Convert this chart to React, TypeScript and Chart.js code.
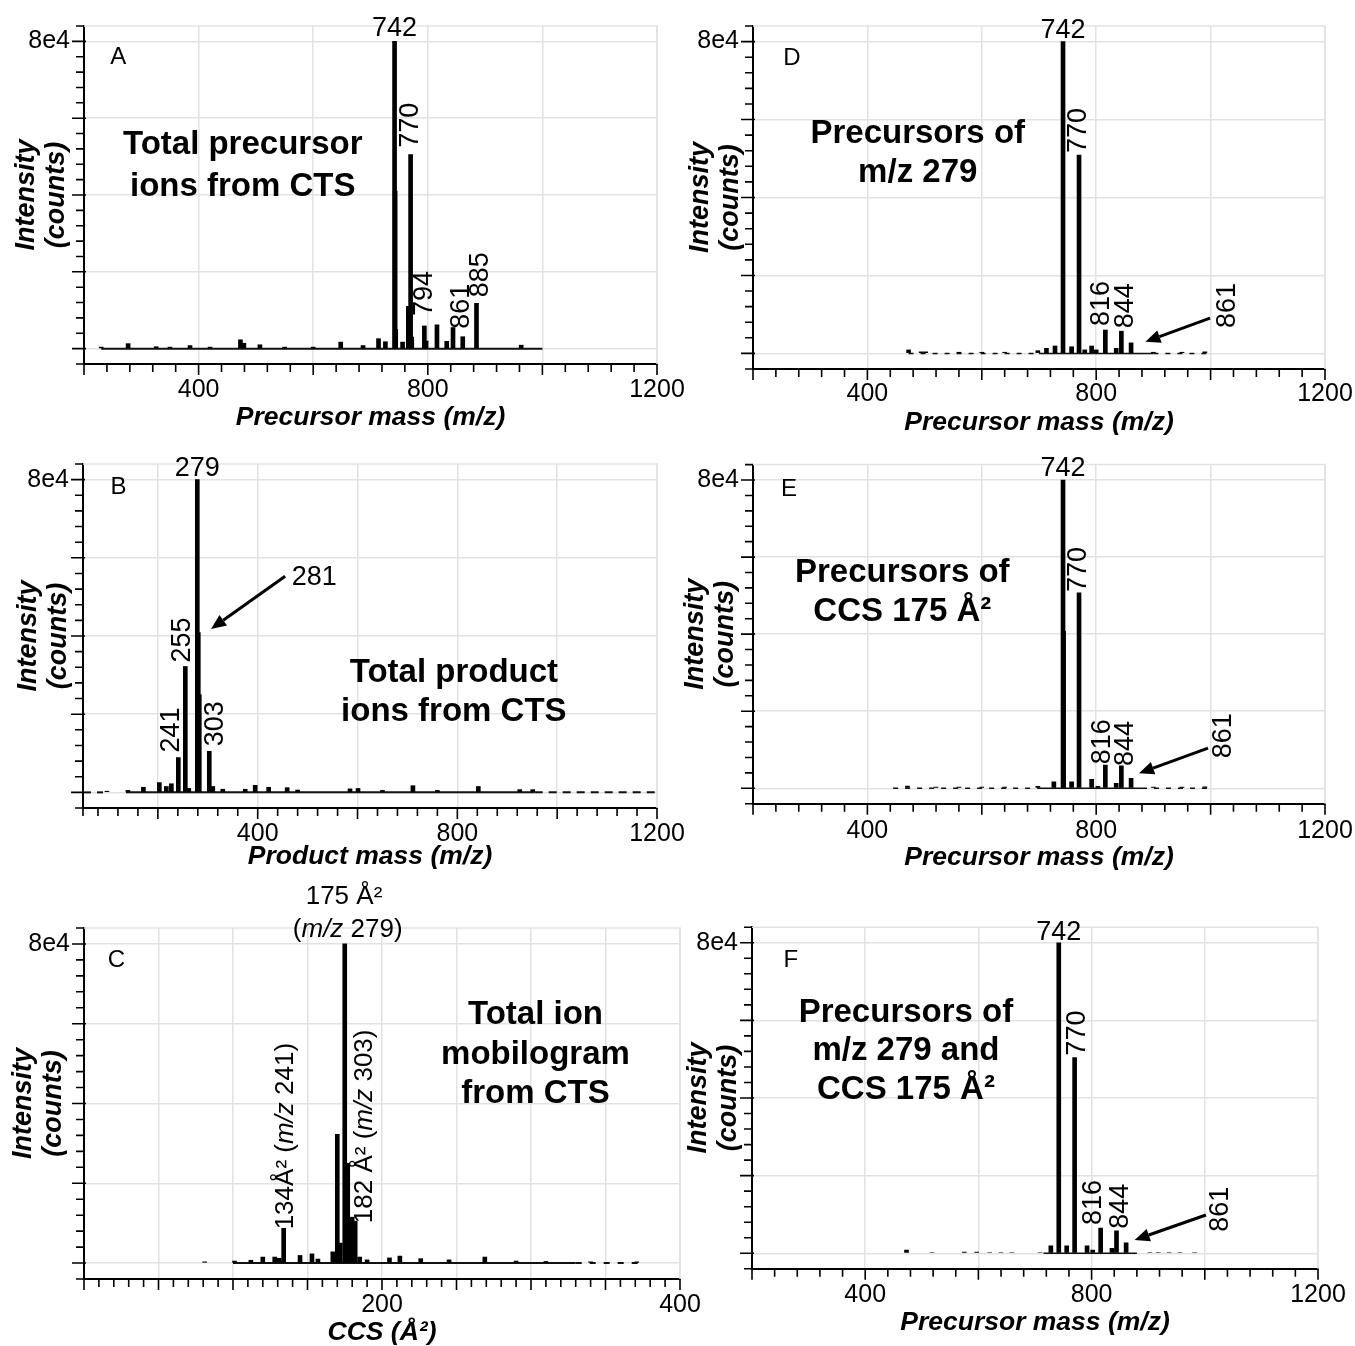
import React, { useEffect, useRef } from "react";
import { Chart, registerables } from "chart.js";

Chart.register(...registerables);

const FONT = '"Liberation Sans", Arial, Helvetica, sans-serif';
const GRID = "#e2e2e2";
Chart.defaults.font.family = FONT;
Chart.defaults.color = "#000";

// ---------- tick labels & titles ----------
const intensityTickValues = [80000];
const intensityTickLabels = ["8e4"];
const massTickLabels = [400, 800, 1200];
const ccsTickLabels = [200, 400];
const intensityTitle = ["Intensity", "(counts)"];

// ---------- Panel A: total precursor ions ----------
const aMz = [230, 277, 326, 350, 385, 420, 473, 479, 507, 550, 600, 648, 687, 714, 726, 742, 743, 744, 756, 766, 770, 772, 794, 797, 816, 833, 844, 861, 885, 963];
const aIntensity = [400, 1300, 500, 400, 800, 400, 2300, 1400, 1000, 400, 400, 1700, 800, 2600, 1800, 80000, 41000, 5000, 1700, 11000, 50500, 3000, 5900, 2000, 6200, 1900, 5500, 3100, 11800, 900];

// ---------- Panel B: total product ions ----------
const bMz = [98, 140, 171, 203, 217, 227, 241, 255, 262, 279, 281, 283, 303, 310, 330, 375, 395, 422, 459, 480, 585, 601, 650, 711, 760, 842, 925, 951];
const bIntensity = [300, 500, 1300, 2500, 1500, 2200, 8900, 32200, 1000, 80000, 40900, 25000, 10500, 1500, 800, 800, 1800, 1300, 1200, 600, 900, 1000, 500, 1700, 500, 1500, 700, 700];

// ---------- Panel C: total ion mobilogram ----------
const cCcs = [81, 101, 112, 120, 128, 131, 134, 145, 153, 157, 167, 170, 172, 175, 177, 180, 182, 185, 190, 205, 212, 226, 245, 269, 290, 310, 340, 371];
const cIntensity = [300, 500, 700, 1500, 1500, 1200, 8700, 1900, 2300, 1000, 2800, 32300, 5000, 80000, 25000, 11500, 10500, 1500, 800, 1300, 1750, 1100, 800, 1500, 500, 400, 300, 300];

// ---------- Panel D: precursors of m/z 279 ----------
const dMz = [472, 494, 502, 560, 600, 640, 698, 713, 728, 742, 757, 770, 780, 792, 800, 816, 835, 844, 861, 900, 950, 990];
const dIntensity = [900, 400, 400, 300, 300, 300, 700, 1300, 1900, 80000, 1700, 50900, 900, 1900, 900, 6000, 1300, 5700, 2700, 300, 300, 400];

// ---------- Panel E: precursors of CCS 175 ----------
const eMz = [470, 520, 560, 600, 640, 698, 726, 742, 743, 757, 770, 792, 803, 816, 835, 844, 861, 900, 950, 990];
const eIntensity = [600, 300, 300, 300, 300, 500, 1700, 80000, 40700, 1700, 50700, 2300, 500, 6000, 1300, 5800, 2600, 300, 300, 400];

// ---------- Panel F: precursors of m/z 279 and CCS 175 ----------
const fMz = [473, 518, 575, 597, 620, 640, 659, 709, 728, 742, 756, 770, 792, 802, 816, 836, 844, 861, 903, 918, 937, 956, 982];
const fIntensity = [800, 200, 300, 300, 200, 200, 200, 200, 1900, 80000, 1900, 50400, 1900, 800, 6500, 1300, 5800, 2700, 200, 200, 200, 200, 200];

type Run = { t: string; i?: boolean };
type Label = {
  runs: Run[];
  at?: number;
  x?: number;
  y?: number;
  rot?: boolean;
  dx?: number;
  gap?: number;
  size?: number;
  align?: "center" | "left";
  baseline?: CanvasTextBaseline;
};
type Baseline = { from: number; to: number; dash?: number[]; width: number };
type PanelCfg = {
  id: string;
  box: { left: number; top: number; width: number; height: number };
  area: { L: number; T: number; R: number; B: number };
  xMin: number;
  xMax: number;
  xMinor: number;
  xMajor: number;
  xLabels: number[];
  xTitle: string;
  tickPad: number;
  xTitleOffset: number;
  yTitleX: number;
  mz: number[];
  inten: number[];
  baselines: Baseline[];
  letter: { text: string; x: number; y: number };
  headline: { lines: string[]; x: number; y: number; gap: number };
  labels: Label[];
  arrows: { x1: number; y1: number; x2: number; y2: number }[];
};

const Y_MIN = -4000;
const Y_MAX = 84000;
const Y_MINOR = 4000;
const Y_MAJOR = 20000;
const LABEL_SIZE = 27;

const R = (t: string): Run[] => [{ t }];

const panels: PanelCfg[] = [
  {
    id: "A",
    box: { left: 0, top: -40, width: 740, height: 480 },
    area: { L: 84, T: 26, R: 657, B: 364 },
    xMin: 200, xMax: 1200, xMinor: 40, xMajor: 200, xLabels: massTickLabels,
    xTitle: "Precursor mass (m/z)", tickPad: 11, xTitleOffset: 54, yTitleX: 27,
    mz: aMz, inten: aIntensity,
    baselines: [{ from: 230, to: 1000, width: 2 }],
    letter: { text: "A", x: 246, y: 75800 },
    headline: { lines: ["Total precursor", "ions from CTS"], x: 477, y: 53000, gap: 42 },
    labels: [
      { runs: R("742"), at: 742, gap: 5 },
      { runs: R("770"), at: 770, rot: true, dx: 0, gap: 7 },
      { runs: R("794"), at: 794, rot: true, dx: 0, gap: 10 },
      { runs: R("861"), at: 861, rot: true, dx: -1, gap: 8 },
      { runs: R("885"), at: 885, rot: true, dx: 4, gap: 6 },
    ],
    arrows: [],
  },
  {
    id: "B",
    box: { left: 0, top: 400, width: 740, height: 480 },
    area: { L: 83, T: 464, R: 657, B: 808 },
    xMin: 50, xMax: 1200, xMinor: 40, xMajor: 200, xLabels: massTickLabels,
    xTitle: "Product mass (m/z)", tickPad: 11, xTitleOffset: 49, yTitleX: 29,
    mz: bMz, inten: bIntensity,
    baselines: [
      { from: 54, to: 92, dash: [6, 6], width: 2 },
      { from: 136, to: 955, width: 2 },
      { from: 955, to: 1200, dash: [8, 6], width: 2 },
    ],
    letter: { text: "B", x: 105, y: 77900 },
    headline: { lines: ["Total product", "ions from CTS"], x: 793, y: 30600, gap: 39 },
    labels: [
      { runs: R("279"), at: 279, gap: 4 },
      { runs: R("255"), at: 255, rot: true, dx: -3, gap: 4 },
      { runs: R("241"), at: 241, rot: true, dx: -7, gap: 5 },
      { runs: R("303"), at: 303, rot: true, dx: 6, gap: 5 },
      { runs: R("281"), x: 468, y: 55000, align: "left", baseline: "middle" },
    ],
    arrows: [{ x1: 455, y1: 55300, x2: 306.5, y2: 41800 }],
  },
  {
    id: "C",
    box: { left: 0, top: 840, width: 740, height: 506 },
    area: { L: 84, T: 928, R: 680, B: 1279 },
    xMin: 0, xMax: 400, xMinor: 10, xMajor: 50, xLabels: ccsTickLabels,
    xTitle: "CCS (Å²)", tickPad: 11, xTitleOffset: 54, yTitleX: 24,
    mz: cCcs, inten: cIntensity,
    baselines: [
      { from: 100, to: 330, width: 2 },
      { from: 330, to: 372, dash: [6, 8], width: 2 },
    ],
    letter: { text: "C", x: 16, y: 76000 },
    headline: { lines: ["Total ion", "mobilogram", "from CTS"], x: 303, y: 62200, gap: 39.5 },
    labels: [
      { runs: R("175 Å²"), x: 174.5, y: 91800, align: "center", baseline: "middle", size: 26 },
      { runs: [{ t: "(" }, { t: "m/z", i: true }, { t: " 279)" }], x: 177, y: 83500, align: "center", baseline: "middle", size: 26 },
      { runs: [{ t: "134Å² (" }, { t: "m/z", i: true }, { t: " 241)" }], at: 134, rot: true, dx: 2, gap: -1, size: 26 },
      { runs: [{ t: "182 Å² (" }, { t: "m/z", i: true }, { t: " 303)" }], at: 182, rot: true, dx: 10, gap: -2, size: 26 },
    ],
    arrows: [],
  },
  {
    id: "D",
    box: { left: 680, top: -40, width: 720, height: 480 },
    area: { L: 753, T: 26, R: 1325, B: 369 },
    xMin: 200, xMax: 1200, xMinor: 40, xMajor: 200, xLabels: massTickLabels,
    xTitle: "Precursor mass (m/z)", tickPad: 10, xTitleOffset: 54, yTitleX: 701,
    mz: dMz, inten: dIntensity,
    baselines: [
      { from: 472, to: 700, dash: [5, 7], width: 1.5 },
      { from: 700, to: 900, width: 1.5 },
      { from: 900, to: 996, dash: [5, 7], width: 1.5 },
    ],
    letter: { text: "D", x: 253, y: 75700 },
    headline: { lines: ["Precursors of", "m/z 279"], x: 488, y: 56300, gap: 38.5 },
    labels: [
      { runs: R("742"), at: 742, gap: 4 },
      { runs: R("770"), at: 770, rot: true, dx: 0, gap: 2 },
      { runs: R("816"), at: 816, rot: true, dx: -4, gap: 4 },
      { runs: R("844"), at: 844, rot: true, dx: 4, gap: 3 },
      { runs: R("861"), x: 1029, y: 6500, rot: true },
    ],
    arrows: [{ x1: 999, y1: 9060, x2: 886, y2: 2980 }],
  },
  {
    id: "E",
    box: { left: 680, top: 400, width: 720, height: 480 },
    area: { L: 753, T: 464.6, R: 1325, B: 803.7 },
    xMin: 200, xMax: 1200, xMinor: 40, xMajor: 200, xLabels: massTickLabels,
    xTitle: "Precursor mass (m/z)", tickPad: 12, xTitleOffset: 54, yTitleX: 696,
    mz: eMz, inten: eIntensity,
    baselines: [
      { from: 445, to: 700, dash: [5, 7], width: 1.5 },
      { from: 700, to: 880, width: 1.5 },
      { from: 880, to: 996, dash: [5, 7], width: 1.5 },
    ],
    letter: { text: "E", x: 249, y: 77500 },
    headline: { lines: ["Precursors of", "CCS 175 Å²"], x: 461, y: 56000, gap: 39 },
    labels: [
      { runs: R("742"), at: 742, gap: 4 },
      { runs: R("770"), at: 770, rot: true, dx: 0, gap: 1 },
      { runs: R("816"), at: 816, rot: true, dx: -3, gap: 1 },
      { runs: R("844"), at: 844, rot: true, dx: 4, gap: 0 },
      { runs: R("861"), x: 1023, y: 7800, rot: true },
    ],
    arrows: [{ x1: 995.5, y1: 10400, x2: 874.8, y2: 3900 }],
  },
  {
    id: "F",
    box: { left: 680, top: 840, width: 720, height: 506 },
    area: { L: 752, T: 927.2, R: 1318, B: 1268.8 },
    xMin: 200, xMax: 1200, xMinor: 40, xMajor: 200, xLabels: massTickLabels,
    xTitle: "Precursor mass (m/z)", tickPad: 11, xTitleOffset: 54, yTitleX: 699,
    mz: fMz, inten: fIntensity,
    baselines: [{ from: 715, to: 880, width: 1.5 }],
    letter: { text: "F", x: 255.5, y: 75500 },
    headline: { lines: ["Precursors of", "m/z 279 and", "CCS 175 Å²"], x: 472, y: 62000, gap: 38.5 },
    labels: [
      { runs: R("742"), at: 742, gap: 3 },
      { runs: R("770"), at: 770, rot: true, dx: 3, gap: 2 },
      { runs: R("816"), at: 816, rot: true, dx: -7, gap: 3 },
      { runs: R("844"), at: 844, rot: true, dx: 4, gap: 2 },
      { runs: R("861"), x: 1027, y: 5560, rot: true },
    ],
    arrows: [{ x1: 1002, y1: 9860, x2: 876, y2: 3420 }],
  },
];

function tickValues(min: number, max: number, step: number): number[] {
  const out: number[] = [min];
  let k = Math.floor(min / step) + 1;
  while (k * step < max - 1e-9) {
    if (k * step > min + 1e-9) out.push(k * step);
    k++;
  }
  out.push(max);
  return out;
}

function fontStr(size: number, bold: boolean, italic?: boolean) {
  return `${italic ? "italic " : ""}${bold ? "bold " : ""}${size}px ${FONT}`;
}

function drawRuns(
  ctx: CanvasRenderingContext2D,
  runs: Run[],
  x: number,
  y: number,
  size: number,
  bold: boolean,
  align: "center" | "left",
  baseline: CanvasTextBaseline
) {
  let w = 0;
  for (const r of runs) {
    ctx.font = fontStr(size, bold, r.i);
    w += ctx.measureText(r.t).width;
  }
  let cx = align === "center" ? x - w / 2 : x;
  ctx.textAlign = "left";
  ctx.textBaseline = baseline;
  for (const r of runs) {
    ctx.font = fontStr(size, bold, r.i);
    ctx.fillText(r.t, cx, y);
    cx += ctx.measureText(r.t).width;
  }
}

function drawArrow(ctx: CanvasRenderingContext2D, x1: number, y1: number, x2: number, y2: number) {
  const ang = Math.atan2(y2 - y1, x2 - x1);
  const hl = 15;
  const hw = 6.5;
  const c = Math.cos(ang);
  const s = Math.sin(ang);
  const bx = x2 - hl * c;
  const by = y2 - hl * s;
  ctx.strokeStyle = "#000";
  ctx.lineWidth = 3;
  ctx.beginPath();
  ctx.moveTo(x1, y1);
  ctx.lineTo(bx, by);
  ctx.stroke();
  ctx.fillStyle = "#000";
  ctx.beginPath();
  ctx.moveTo(x2, y2);
  ctx.lineTo(bx + hw * s, by - hw * c);
  ctx.lineTo(bx - hw * s, by + hw * c);
  ctx.closePath();
  ctx.fill();
}

function makePlugin(cfg: PanelCfg) {
  return {
    id: "ms" + cfg.id,
    beforeDatasetsDraw(chart: any) {
      const { ctx, chartArea: a } = chart;
      ctx.save();
      ctx.strokeStyle = GRID;
      ctx.lineWidth = 1.5;
      ctx.beginPath();
      ctx.moveTo(a.left, a.top);
      ctx.lineTo(a.right, a.top);
      ctx.lineTo(a.right, a.bottom);
      ctx.stroke();
      ctx.restore();
    },
    afterDraw(chart: any) {
      const ctx: CanvasRenderingContext2D = chart.ctx;
      const xs = chart.scales.x;
      const ys = chart.scales.y;
      const a = chart.chartArea;
      ctx.save();
      // tick marks
      ctx.strokeStyle = "#000";
      ctx.lineWidth = 1.6;
      ctx.beginPath();
      for (const t of ys.ticks) {
        const p = ys.getPixelForValue(t.value);
        const major = Math.abs(t.value % Y_MAJOR) < 1e-6;
        ctx.moveTo(a.left - (major ? 12 : 8), p);
        ctx.lineTo(a.left + (major ? 2 : 0), p);
      }
      for (const t of xs.ticks) {
        const p = xs.getPixelForValue(t.value);
        const major = Math.abs(t.value % cfg.xMajor) < 1e-6;
        ctx.moveTo(p, a.bottom);
        ctx.lineTo(p, a.bottom + (major ? 11 : 8));
      }
      ctx.stroke();

      ctx.fillStyle = "#000";
      // panel letter
      drawRuns(ctx, R(cfg.letter.text), xs.getPixelForValue(cfg.letter.x), ys.getPixelForValue(cfg.letter.y), 24, false, "left", "middle");
      // headline
      const h = cfg.headline;
      h.lines.forEach((ln, i) => {
        drawRuns(ctx, R(ln), xs.getPixelForValue(h.x), ys.getPixelForValue(h.y) + i * h.gap, 33, true, "center", "middle");
      });
      // peak labels
      for (const l of cfg.labels) {
        let xv = l.x as number;
        let yv = l.y as number;
        if (l.at !== undefined) {
          const idx = cfg.mz.indexOf(l.at);
          xv = l.at;
          yv = idx >= 0 ? cfg.inten[idx] : 0;
        }
        const px = xs.getPixelForValue(xv) + (l.dx || 0);
        const py = ys.getPixelForValue(yv) - (l.gap || 0);
        const size = l.size || LABEL_SIZE;
        if (l.rot) {
          ctx.save();
          ctx.translate(px, py);
          ctx.rotate(-Math.PI / 2);
          drawRuns(ctx, l.runs, 0, 0, size, false, "left", "middle");
          ctx.restore();
        } else {
          drawRuns(ctx, l.runs, px, py, size, false, l.align || "center", l.baseline || "alphabetic");
        }
      }
      // arrows
      for (const ar of cfg.arrows) {
        drawArrow(ctx, xs.getPixelForValue(ar.x1), ys.getPixelForValue(ar.y1), xs.getPixelForValue(ar.x2), ys.getPixelForValue(ar.y2));
      }
      ctx.restore();
    },
  };
}

function buildConfig(cfg: PanelCfg): any {
  const { L, T, R: Rr, B } = cfg.area;
  const { left: cl, top: ct, width: cw, height: ch } = cfg.box;
  const yW = L - cl;
  const xH = ct + ch - B;
  const xTitlePb = xH - cfg.xTitleOffset - 13.25;
  const yTitlePt = cfg.yTitleX - cl - 15.5;
  const xTicks = tickValues(cfg.xMin, cfg.xMax, cfg.xMinor);
  const yTicks = tickValues(Y_MIN, Y_MAX, Y_MINOR);
  return {
    type: "bar",
    data: {
      datasets: [
        {
          type: "bar",
          data: cfg.mz.map((m, i) => ({ x: m, y: cfg.inten[i] })),
          backgroundColor: "#000",
          borderWidth: 0,
          barThickness: 4,
        },
        ...cfg.baselines.map((b) => ({
          type: "line",
          data: [
            { x: b.from, y: 0 },
            { x: b.to, y: 0 },
          ],
          borderColor: "#111",
          borderWidth: b.width,
          borderDash: b.dash || [],
          pointRadius: 0,
          fill: false,
        })),
      ],
    },
    options: {
      responsive: false,
      maintainAspectRatio: false,
      animation: false,
      devicePixelRatio: 1,
      events: [],
      layout: { padding: { left: 0, top: T - ct, right: cl + cw - Rr, bottom: 0 } },
      plugins: { legend: { display: false }, tooltip: { enabled: false } },
      scales: {
        x: {
          type: "linear",
          min: cfg.xMin,
          max: cfg.xMax,
          offset: false,
          afterBuildTicks: (s: any) => {
            s.ticks = xTicks.map((v) => ({ value: v }));
          },
          afterFit: (s: any) => {
            s.height = xH;
          },
          grid: {
            offset: false,
            drawTicks: false,
            lineWidth: 1.5,
            color: (c: any) =>
              c.tick && Math.abs(c.tick.value % cfg.xMajor) < 1e-6 ? GRID : "rgba(0,0,0,0)",
          },
          border: { display: true, color: "#000", width: 2 },
          ticks: {
            autoSkip: false,
            maxRotation: 0,
            minRotation: 0,
            padding: cfg.tickPad,
            color: "#000",
            font: { family: FONT, size: 25 },
            callback: (v: number) => (cfg.xLabels.indexOf(v) >= 0 ? String(v) : ""),
          },
          title: {
            display: true,
            text: cfg.xTitle,
            color: "#000",
            font: { family: FONT, size: 26.5, weight: "bold", style: "italic", lineHeight: 1 },
            padding: { top: 0, bottom: xTitlePb },
          },
        },
        y: {
          type: "linear",
          min: Y_MIN,
          max: Y_MAX,
          afterBuildTicks: (s: any) => {
            s.ticks = yTicks.map((v) => ({ value: v }));
          },
          afterFit: (s: any) => {
            s.width = yW;
          },
          grid: {
            drawTicks: false,
            lineWidth: 1.5,
            color: (c: any) =>
              c.tick && Math.abs(c.tick.value % Y_MAJOR) < 1e-6 ? GRID : "rgba(0,0,0,0)",
          },
          border: { display: true, color: "#000", width: 2 },
          ticks: {
            autoSkip: false,
            padding: 14,
            color: "#000",
            font: { family: FONT, size: 25 },
            callback: (v: number) => {
              const i = intensityTickValues.indexOf(v);
              return i >= 0 ? intensityTickLabels[i] : "";
            },
          },
          title: {
            display: true,
            text: intensityTitle,
            color: "#000",
            font: { family: FONT, size: 27, weight: "bold", style: "italic", lineHeight: 1.12 },
            padding: { top: yTitlePt, bottom: 0 },
          },
        },
      },
    },
    plugins: [makePlugin(cfg)],
  };
}

function Panel({ cfg }: { cfg: PanelCfg }) {
  const ref = useRef<HTMLCanvasElement>(null);
  useEffect(() => {
    const canvas = ref.current;
    if (!canvas) return;
    const chart = new Chart(canvas, buildConfig(cfg));
    return () => chart.destroy();
  }, [cfg]);
  return (
    <canvas
      ref={ref}
      width={cfg.box.width}
      height={cfg.box.height}
      style={{
        position: "absolute",
        left: cfg.box.left,
        top: cfg.box.top,
        width: cfg.box.width,
        height: cfg.box.height,
      }}
    />
  );
}

export default function App() {
  return (
    <div
      style={{
        position: "absolute",
        left: 0,
        top: 0,
        width: 1355,
        height: 1346,
        overflow: "hidden",
        background: "#fff",
      }}
    >
      {panels.map((p) => (
        <Panel key={p.id} cfg={p} />
      ))}
    </div>
  );
}
